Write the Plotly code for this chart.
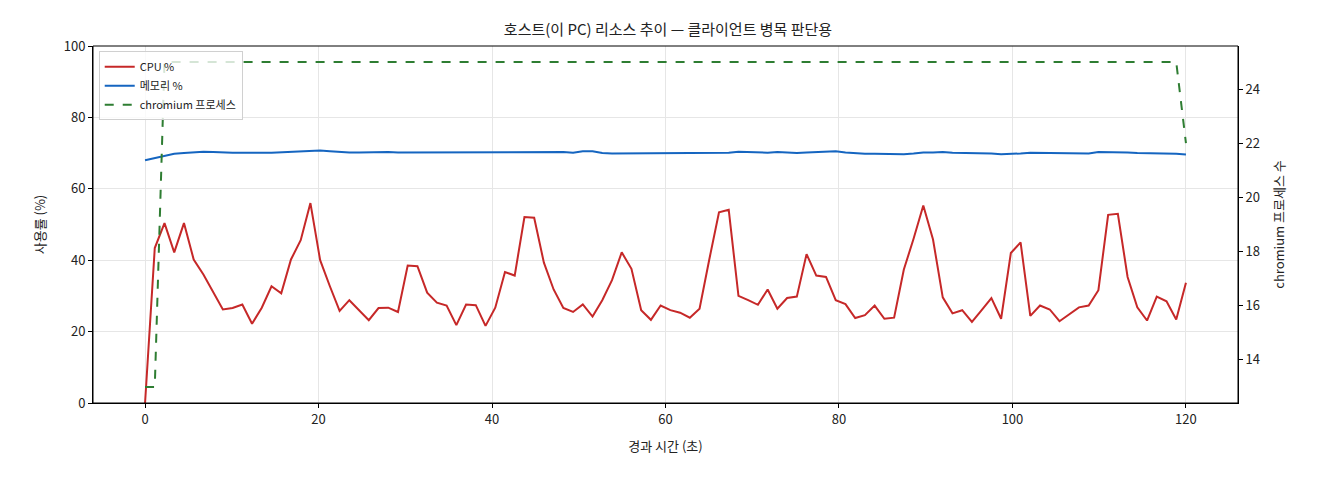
import numpy as np
import plotly.graph_objects as go

cpu = [0, 43.4, 50.4, 42.2, 50.4, 40.2, 36, 31.3, 26.2, 26.6, 27.6, 22.2, 26.7, 32.7, 30.7, 40.2, 45.6, 56,
       40, 32.7, 25.8, 28.8, 26, 23.2, 26.6, 26.7, 25.5, 38.5, 38.3, 30.9, 28.1, 27.3, 21.8, 27.6, 27.4, 21.6,
       26.7, 36.7, 35.7, 52.1, 51.9, 39.3, 31.8, 26.6, 25.5, 27.6, 24.2, 28.8, 34.4, 42.2, 37.6, 26, 23.3, 27.3,
       26, 25.3, 23.9, 26.4, 40.2, 53.4, 54.1, 30, 28.8, 27.5, 31.8, 26.4, 29.4, 29.8, 41.7, 35.7, 35.3, 28.8,
       27.7, 23.8, 24.6, 27.3, 23.6, 23.9, 37.4, 46, 55.3, 45.8, 29.6, 25.1, 26, 22.7, 26, 29.4, 23.6, 42, 45,
       24.4, 27.3, 26.2, 22.9, 24.8, 26.8, 27.3, 31.6, 52.7, 53, 35.3, 26.8, 23.1, 29.8, 28.5, 23.4, 33.7]
mem = [68.0, 68.6, 69.3, 69.8, 70.0, 70.3, 70.4, 70.3, 70.1, 70.1, 70.1, 70.2, 70.1, 70.1, 70.2, 70.4, 70.3, 70.4,
       70.7, 70.5, 70.3, 70.2, 70.2, 70.3, 70.2, 70.3, 70.2, 70.2, 70.2, 70.4, 70.4, 70.3, 70.3, 70.2, 70.2, 70.2,
       70.2, 70.2, 70.2, 70.3, 70.4, 70.3, 70.4, 70.3, 70.1, 70.5, 70.5, 70.0, 69.9, 69.9, 69.9, 70.1, 70.1, 70.1,
       70.1, 70.1, 70.0, 70.0, 70.0, 70.1, 70.1, 70.4, 70.3, 70.3, 70.1, 70.3, 70.2, 70.0, 70.2, 70.3, 70.3, 70.5,
       70.2, 69.9, 69.8, 69.8, 69.7, 69.7, 69.7, 69.9, 70.2, 70.2, 70.3, 70.1, 70.1, 70.1, 70.1, 69.9, 69.7, 69.7,
       69.9, 70.1, 70.1, 69.9, 69.9, 69.9, 69.9, 69.9, 70.3, 70.3, 70.3, 70.2, 70.0, 70.0, 70.0, 69.9, 69.8, 69.6]
procs = [13, 13] + [25] * 105 + [22]
t = np.linspace(0, 120, len(cpu))

font = "Noto Sans CJK KR"
fig = go.Figure()
fig.add_trace(go.Scatter(x=t, y=cpu, name="CPU %", mode="lines", line=dict(color="#c62828", width=2)))
fig.add_trace(go.Scatter(x=t, y=mem, name="메모리 %", mode="lines", line=dict(color="#1565c0", width=2)))
fig.add_trace(go.Scatter(x=t, y=procs, name="chromium 프로세스", mode="lines", yaxis="y2",
                         line=dict(color="#2e7d32", width=2, dash="dash")))

axcommon = dict(showline=True, linecolor="black", linewidth=1, mirror=False, ticks="outside",
                ticklen=4, tickcolor="black", tickfont=dict(size=13, color="#222"), zeroline=False)
fig.update_layout(
    width=1320, height=480, plot_bgcolor="white", paper_bgcolor="white",
    font=dict(family=font, color="#222"),
    margin=dict(l=85, r=90, t=38, b=85),
    title=dict(text="호스트(이 PC) 리소스 추이 — 클라이언트 병목 판단용", x=0.5, xanchor="center",
               y=0.965, font=dict(size=15)),
    xaxis=dict(range=[-6, 126], tickvals=[0, 20, 40, 60, 80, 100, 120], showgrid=True,
               gridcolor="#e6e6e6", title=dict(text="경과 시간 (초)", font=dict(size=13)), **axcommon),
    yaxis=dict(range=[0, 100], tickvals=[0, 20, 40, 60, 80, 100], showgrid=True, gridcolor="#e6e6e6",
               title=dict(text="사용률 (%)", font=dict(size=13)), **axcommon),
    yaxis2=dict(overlaying="y", side="right", range=[12.41, 25.59], tickvals=[14, 16, 18, 20, 22, 24],
                showgrid=False, title=dict(text="chromium 프로세스 수", font=dict(size=13)), **axcommon),
    legend=dict(x=0.005, y=0.985, xanchor="left", yanchor="top", bgcolor="rgba(255,255,255,0.8)",
                bordercolor="#d0d0d0", borderwidth=1, font=dict(size=11), tracegroupgap=4),
    showlegend=True,
)
fig.add_shape(type="rect", xref="paper", yref="paper", x0=0, y0=0, x1=1, y1=1,
              line=dict(color="black", width=1), layer="above")
fig.write_html("out.html")
